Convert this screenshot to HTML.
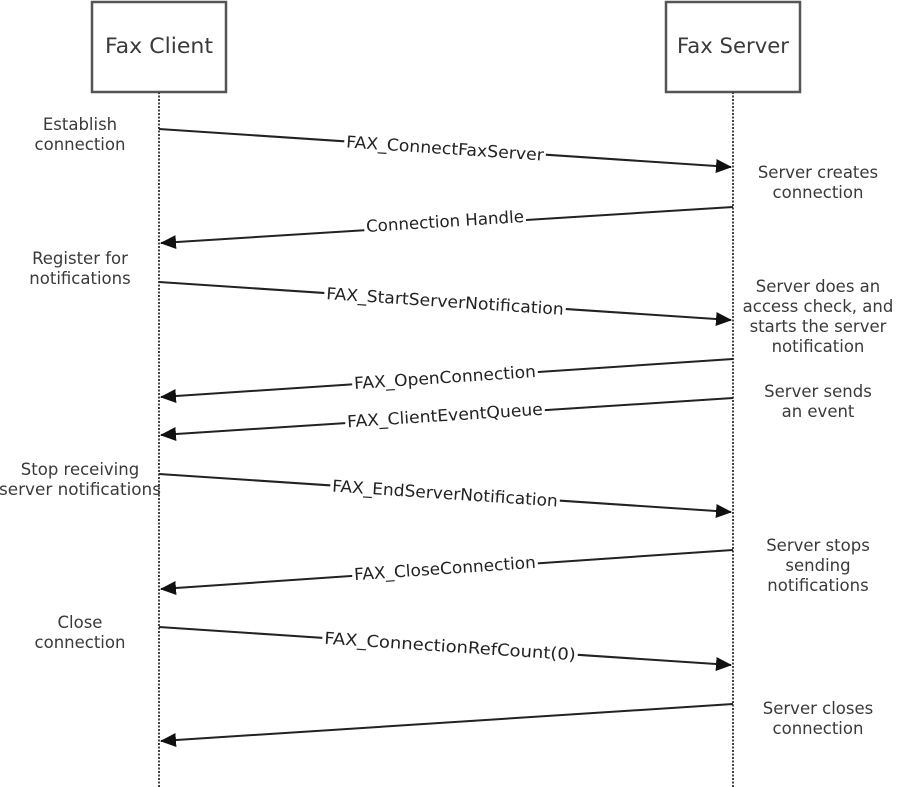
<!DOCTYPE html>
<html><head><meta charset="utf-8"><style>
html,body{margin:0;padding:0;background:#fff;}
svg{display:block;}
text{font-family:"DejaVu Sans","Liberation Sans",sans-serif;fill:#3a3a3a;font-size:16.5px;}
.l{fill:#222;font-size:16.5px;}
</style></head><body>
<svg width="912" height="787" viewBox="0 0 912 787" xmlns="http://www.w3.org/2000/svg">
<defs>
<marker id="a" markerWidth="16" markerHeight="14" refX="15" refY="7" orient="auto" markerUnits="userSpaceOnUse">
<path d="M0,0 L16,7 L0,14 Z" fill="#111"/></marker>
</defs>
<rect x="92" y="2" width="134" height="90" fill="#fff" stroke="#555" stroke-width="2.5"/>
<rect x="666" y="2" width="134" height="90" fill="#fff" stroke="#555" stroke-width="2.5"/>
<text x="159" y="53" text-anchor="middle" style="font-size:21px" textLength="108" lengthAdjust="spacingAndGlyphs">Fax Client</text>
<text x="733" y="53" text-anchor="middle" style="font-size:21px" textLength="112" lengthAdjust="spacingAndGlyphs">Fax Server</text>
<line x1="159" y1="92" x2="159" y2="787" stroke="#444" stroke-width="2" stroke-dasharray="2,1.5"/>
<line x1="733" y1="92" x2="733" y2="787" stroke="#444" stroke-width="2" stroke-dasharray="2,1.5"/>
<g stroke="#222" stroke-width="2" fill="none">
<line x1="159" y1="129" x2="731" y2="167" marker-end="url(#a)"/>
<line x1="733" y1="207" x2="161" y2="243" marker-end="url(#a)"/>
<line x1="159" y1="282" x2="731" y2="320" marker-end="url(#a)"/>
<line x1="733" y1="359" x2="161" y2="397" marker-end="url(#a)"/>
<line x1="733" y1="398" x2="161" y2="435" marker-end="url(#a)"/>
<line x1="159" y1="474" x2="731" y2="512" marker-end="url(#a)"/>
<line x1="733" y1="550" x2="161" y2="589" marker-end="url(#a)"/>
<line x1="159" y1="627" x2="731" y2="665" marker-end="url(#a)"/>
<line x1="733" y1="704" x2="161" y2="741" marker-end="url(#a)"/>
</g>
<g>
<g transform="translate(445,149) rotate(3.8)"><rect x="-101" y="-9" width="202" height="17" fill="#fff"/><text class="l" y="5" text-anchor="middle" textLength="198" lengthAdjust="spacingAndGlyphs">FAX_ConnectFaxServer</text></g>
<g transform="translate(445,222) rotate(-3.6)"><rect x="-81" y="-9" width="162" height="17" fill="#fff"/><text class="l" y="5" text-anchor="middle" textLength="158" lengthAdjust="spacingAndGlyphs">Connection Handle</text></g>
<g transform="translate(445,302) rotate(3.8)"><rect x="-121" y="-9" width="242" height="17" fill="#fff"/><text class="l" y="5" text-anchor="middle" textLength="238" lengthAdjust="spacingAndGlyphs">FAX_StartServerNotification</text></g>
<g transform="translate(445,378) rotate(-3.8)"><rect x="-93" y="-9" width="186" height="17" fill="#fff"/><text class="l" y="5" text-anchor="middle" textLength="182" lengthAdjust="spacingAndGlyphs">FAX_OpenConnection</text></g>
<g transform="translate(445,416) rotate(-3.7)"><rect x="-100" y="-9" width="200" height="17" fill="#fff"/><text class="l" y="5" text-anchor="middle" textLength="196" lengthAdjust="spacingAndGlyphs">FAX_ClientEventQueue</text></g>
<g transform="translate(445,494) rotate(3.8)"><rect x="-115" y="-9" width="230" height="17" fill="#fff"/><text class="l" y="5" text-anchor="middle" textLength="226" lengthAdjust="spacingAndGlyphs">FAX_EndServerNotification</text></g>
<g transform="translate(445,569) rotate(-3.9)"><rect x="-93" y="-9" width="186" height="17" fill="#fff"/><text class="l" y="5" text-anchor="middle" textLength="182" lengthAdjust="spacingAndGlyphs">FAX_CloseConnection</text></g>
<g transform="translate(450,647) rotate(3.8)"><rect x="-128" y="-9" width="256" height="17" fill="#fff"/><text class="l" y="5" text-anchor="middle" textLength="252" lengthAdjust="spacingAndGlyphs">FAX_ConnectionRefCount(0)</text></g>
</g>
<g text-anchor="middle">
<text x="80" y="130">Establish</text><text x="80" y="150">connection</text>
<text x="80" y="264">Register for</text><text x="80" y="284">notifications</text>
<text x="80" y="475">Stop receiving</text><text x="80" y="495" textLength="162" lengthAdjust="spacingAndGlyphs">server notifications</text>
<text x="80" y="628">Close</text><text x="80" y="648">connection</text>
<text x="818" y="178">Server creates</text><text x="818" y="198">connection</text>
<text x="818" y="292">Server does an</text><text x="818" y="312">access check, and</text><text x="818" y="332">starts the server</text><text x="818" y="352">notification</text>
<text x="818" y="397">Server sends</text><text x="818" y="417">an event</text>
<text x="818" y="551">Server stops</text><text x="818" y="571">sending</text><text x="818" y="591">notifications</text>
<text x="818" y="714">Server closes</text><text x="818" y="734">connection</text>
</g>
</svg>
</body></html>
